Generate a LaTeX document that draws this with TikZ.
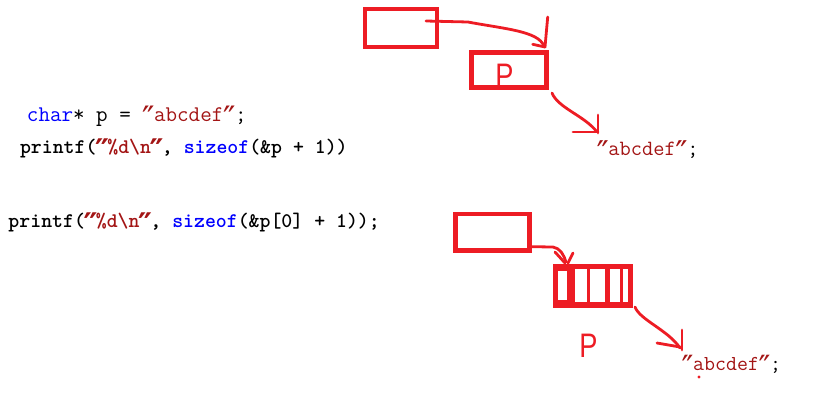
\documentclass[tikz,border=0pt]{standalone}
\usepackage{fontspec}
\newfontfamily\pfont{Liberation Sans}
\newfontfamily\qfont{DejaVu Sans Mono}
\newcommand\dq{\makebox[0.525em][c]{\raisebox{-0.42em}{\scalebox{1.5}{\qfont ″}}}}
\definecolor{paintred}{HTML}{ED1C24}
\definecolor{strred}{HTML}{A31515}
\definecolor{kwblue}{HTML}{0000FF}
\begin{document}
\begin{tikzpicture}[x=1pt,y=-1pt,
  codetxt/.style={anchor=base west, inner sep=0pt, outer sep=0pt},
  redbox/.style={draw=paintred, rectangle, inner sep=0pt, outer sep=0pt},
  hand/.style={draw=paintred, line width=2.8pt, line cap=round, line join=round},
  plabel/.style={anchor=base, inner sep=0pt, text=paintred, font=\pfont\fontsize{34pt}{38pt}\selectfont}]
\useasboundingbox (0,0) rectangle (819,408);

% code lines
\node[codetxt] (code1) at (27,121) {\ttfamily\fontsize{22.4pt}{25pt}\selectfont{\color{kwblue}char}* p = {\color{strred}\dq abcdef\dq};};
\node[codetxt] (code2) at (20,153) {\ttfamily\bfseries\fontsize{20.8pt}{24pt}\selectfont printf({\color{strred}\dq\%d\textbackslash n\dq}, {\color{kwblue}sizeof}(\&p + 1))};
\node[codetxt] (code3) at (8.5,227) {\ttfamily\bfseries\fontsize{20.8pt}{24pt}\selectfont printf({\color{strred}\dq\%d\textbackslash n\dq}, {\color{kwblue}sizeof}(\&p[0] + 1));};

\node[codetxt] (str1) at (597,155) {\ttfamily\fontsize{21.8pt}{25pt}\selectfont{\color{strred}\dq abcdef\dq};};
\node[codetxt] (str2) at (682,370) {\ttfamily\fontsize{21.3pt}{25pt}\selectfont{\color{strred}\dq abcdef\dq};};

% top boxes
\node[redbox, line width=4.2pt, minimum width=72.3pt, minimum height=38.3pt] (boxA) at (400.85,27.85) {};
\node[redbox, line width=5pt, minimum width=75pt, minimum height=35pt] (boxP) at (508.5,70) {};
\node[plabel] (ptop) at (504.5,87) {\scalebox{0.8}[1]{P}};

% bottom boxes
\node[redbox, line width=4.3pt, minimum width=74pt, minimum height=36.5pt] (boxB) at (492.5,232.25) {};
\fill[paintred] (552.7,264) rectangle (632.7,308);
\fill[white] (558.3,270.7) rectangle (566.7,299.7);
\fill[white] (575,268.7) rectangle (586.7,302);
\fill[white] (590,268.7) rectangle (605,302);
\fill[white] (610,268.7) rectangle (620,302);
\fill[white] (623.3,268.7) rectangle (628.3,302);
\node[plabel] (pbot) at (588.5,357) {\scalebox{0.8}[1]{P}};

% arrow 1
\coordinate (a1s) at (426,21);
\coordinate (a1m) at (468,22);
\coordinate (a1e) at (544,46);
\draw[hand] (a1s) -- (a1m) .. controls (505,29) and (538,31) .. (a1e);
\draw[hand] (547.7,17) -- (545,47);
\draw[hand] (532.7,44.3) -- (545,47);

% arrow 2
\coordinate (a2s) at (552,93);
\coordinate (a2e) at (597,132);
\draw[hand] (a2s) .. controls (558,108) and (585,116) .. (a2e);
\draw[hand] (598,115) -- (598,133);
\draw[hand] (573,132) -- (598,132);

% arrow 3
\coordinate (a3s) at (531.7,246.7);
\coordinate (a3m) at (553,247);
\coordinate (a3e) at (566,262);
\draw[hand] (a3s) -- (a3m) .. controls (560,248) and (564,255) .. (a3e);
\draw[hand] (555,252) -- (565,263);
\draw[hand] (573,253) -- (568,263);

% arrow 4
\coordinate (a4s) at (635,307);
\coordinate (a4e) at (680,348);
\draw[hand] (a4s) .. controls (640,320) and (668,330) .. (a4e);
\draw[hand] (682,330) -- (682,350);
\draw[hand] (657,343) -- (680,347);

% stray dot
\fill[paintred] (699,377) circle (1.6);
\end{tikzpicture}
\end{document}
